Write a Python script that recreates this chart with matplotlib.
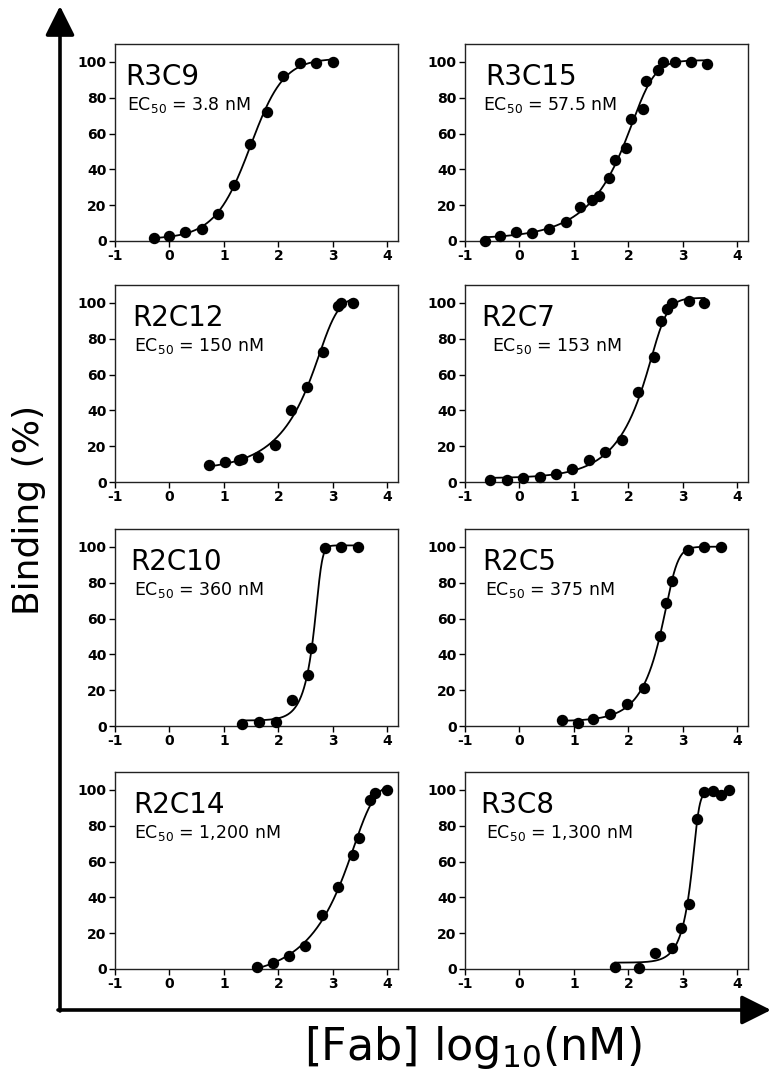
import numpy as np
import matplotlib
matplotlib.use("Agg")
import matplotlib.pyplot as plt

plt.rcParams['font.family'] = 'DejaVu Sans'
plt.rcParams['mathtext.default'] = 'regular'
plt.rcParams['axes.unicode_minus'] = False

# values (x = log10 nM, y = binding %)
names = ["R3C9", "R3C15", "R2C12", "R2C7", "R2C10", "R2C5", "R2C14", "R3C8"]
ec50_labels = ["3.8 nM", "57.5 nM", "150 nM", "153 nM",
               "360 nM", "375 nM", "1,200 nM", "1,300 nM"]

r3c9_x = [-0.29, 0.0, 0.29, 0.59, 0.9, 1.19, 1.48, 1.79, 2.09, 2.4, 2.69, 3.0]
r3c9_y = [1.9, 2.8, 5.0, 6.9, 15.3, 31.0, 54.4, 72.0, 92.0, 99.6, 99.6, 100.0]

r3c15_x = [-0.64, -0.36, -0.06, 0.24, 0.55, 0.85, 1.12, 1.34, 1.46, 1.64,
           1.75, 1.95, 2.05, 2.27, 2.33, 2.55, 2.64, 2.86, 3.15, 3.45]
r3c15_y = [0.2, 3.0, 5.2, 4.3, 6.7, 10.4, 19.0, 23.0, 25.0, 35.0,
           45.0, 52.0, 68.0, 73.6, 89.6, 95.5, 100.0, 100.0, 100.0, 98.7]

r2c12_x = [0.73, 1.02, 1.27, 1.34, 1.63, 1.94, 2.24, 2.52, 2.82, 3.1, 3.15, 3.38]
r2c12_y = [9.7, 11.2, 12.1, 13.0, 14.0, 20.9, 40.0, 53.0, 72.4, 98.3, 100.0, 100.0]

r2c7_x = [-0.54, -0.23, 0.07, 0.37, 0.67, 0.97, 1.28, 1.58, 1.88, 2.18,
          2.48, 2.61, 2.71, 2.8, 3.11, 3.4]
r2c7_y = [1.3, 0.9, 2.2, 2.8, 4.7, 7.4, 12.1, 16.6, 23.3, 50.0,
          70.0, 90.0, 96.6, 100.0, 101.0, 100.0]

r2c10_x = [1.34, 1.65, 1.95, 2.25, 2.55, 2.61, 2.85, 3.15, 3.46]
r2c10_y = [1.3, 2.2, 2.4, 14.5, 28.3, 43.3, 99.4, 99.8, 100.0]

r2c5_x = [0.78, 1.07, 1.36, 1.67, 1.98, 2.28, 2.58, 2.7, 2.8, 3.1, 3.39, 3.7]
r2c5_y = [3.1, 1.7, 4.1, 6.5, 12.4, 21.1, 50.0, 68.9, 80.9, 98.0, 100.0, 100.0]

r2c14_x = [1.6, 1.9, 2.2, 2.49, 2.8, 3.1, 3.37, 3.48, 3.69, 3.78, 4.0]
r2c14_y = [1.3, 3.1, 7.4, 12.9, 29.9, 45.9, 63.5, 73.2, 94.5, 98.2, 100.0]

r3c8_x = [1.76, 2.2, 2.5, 2.8, 2.96, 3.11, 3.27, 3.39, 3.55, 3.71, 3.86]
r3c8_y = [0.9, 0.6, 8.7, 12.0, 23.1, 36.1, 83.9, 98.7, 99.6, 97.2, 100.0]

panel_x = [r3c9_x, r3c15_x, r2c12_x, r2c7_x, r2c10_x, r2c5_x, r2c14_x, r3c8_x]
panel_y = [r3c9_y, r3c15_y, r2c12_y, r2c7_y, r2c10_y, r2c5_y, r2c14_y, r3c8_y]

# label offsets from the left frame (x data units)
name_dx = [0.18, 0.37, 0.31, 0.29, 0.28, 0.31, 0.33, 0.28]
ec_dx = [0.22, 0.33, 0.35, 0.5, 0.35, 0.37, 0.35, 0.39]


def fit_logistic(x, y):
    # dose-response fit: y = b + a / (1 + 10^((c - x) h))^s, grid search on c, h, s
    x = np.asarray(x, float)
    y = np.asarray(y, float)
    c = np.linspace(x.min(), x.max(), 90)[:, None, None, None]
    h = np.linspace(0.5, 10, 60)[None, :, None, None]
    s = np.geomspace(0.25, 3, 20)[None, None, :, None]
    with np.errstate(all='ignore'):
        f = 1.0 / (1.0 + 10.0 ** ((c - x) * h)) ** s
        fm = f.mean(-1, keepdims=True)
        ym = y.mean()
        a = ((f - fm) * (y - ym)).sum(-1) / ((f - fm) ** 2).sum(-1)
        b = ym - a * fm[..., 0]
        sse = ((b[..., None] + a[..., None] * f - y) ** 2).sum(-1)
    sse[~np.isfinite(sse)] = np.inf
    sse[(a <= 0) | (a + b > 106)] = np.inf
    i = np.unravel_index(np.argmin(sse), sse.shape)
    cc, hh, ss = c.ravel()[i[0]], h.ravel()[i[1]], s.ravel()[i[2]]
    aa, bb = a[i], b[i]
    return lambda xs: bb + aa / (1.0 + 10.0 ** ((cc - xs) * hh)) ** ss


fig = plt.figure(figsize=(7.72, 10.72), dpi=100)

# big arrows
ov = fig.add_axes([0, 0, 1, 1], zorder=-1)
ov.set_xlim(0, 772)
ov.set_ylim(1072, 0)
ov.axis('off')
arrow = dict(arrowstyle='-|>,head_length=0.9,head_width=0.45', lw=2.6,
             color='black', mutation_scale=20, shrinkA=0, shrinkB=0)
ov.annotate('', xy=(60, 6), xytext=(60, 1011), arrowprops=arrow)
ov.annotate('', xy=(771, 1010), xytext=(58, 1010), arrowprops=arrow)

fig.text(0.038, 0.524, 'Binding (%)', rotation=90, fontsize=26,
         ha='center', va='center')
fig.text(0.612, 0.011, '[Fab] log$_{10}$(nM)', fontsize=32,
         ha='center', va='baseline')

col_left = [115 / 772, 465 / 772]
ax_w = 283 / 772
row_bottom = [1 - 241 / 1072, 1 - 482 / 1072, 1 - 726 / 1072, 1 - 969 / 1072]
ax_h = 197 / 1072

for k in range(8):
    r, c = divmod(k, 2)
    ax = fig.add_axes([col_left[c], row_bottom[r], ax_w, ax_h])
    x = panel_x[k]
    y = panel_y[k]
    curve = fit_logistic(x, y)
    xs = np.linspace(min(x), max(x), 400)
    ax.plot(xs, curve(xs), color='black', lw=1.3, zorder=2)
    ax.plot(x, y, 'o', color='black', ms=7.2, clip_on=False, zorder=3)
    ax.set_xlim(-1, 4.2)
    ax.set_ylim(0, 110)
    ax.set_xticks(range(-1, 5))
    ax.set_yticks(range(0, 101, 20))
    ax.tick_params(direction='out', length=4, width=1, pad=2, labelsize=10)
    for lab in ax.get_xticklabels() + ax.get_yticklabels():
        lab.set_fontweight('bold')
    for sp in ax.spines.values():
        sp.set_linewidth(1.0)
        sp.set_color('#222222')
    ax.text(-1 + name_dx[k], 87, names[k], fontsize=20, va='baseline')
    ax.text(-1 + ec_dx[k], 73, 'EC$_{50}$ = ' + ec50_labels[k], fontsize=12.5,
            va='baseline')

fig.savefig('out.png', dpi=100)
